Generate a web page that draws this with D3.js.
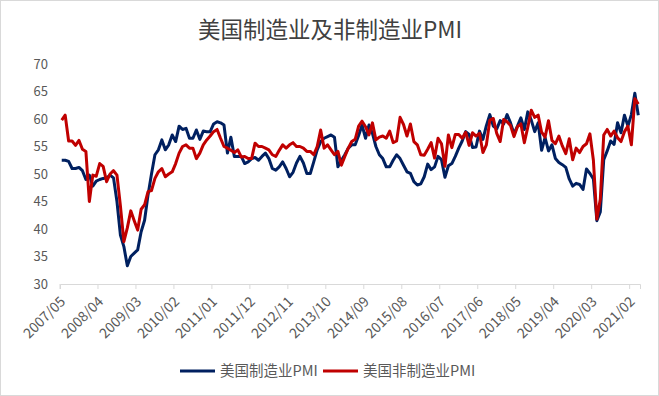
<!DOCTYPE html>
<html>
<head>
<meta charset="utf-8">
<title>美国制造业及非制造业PMI</title>
<script src="https://d3js.org/d3.v7.min.js"></script>
<style>
  body { margin: 0; background: #fff; }
  text { font-family: "Noto Sans CJK SC", "Noto Sans", sans-serif; }
</style>
</head>
<body>
<script>
  // データ
  var title = "美国制造业及非制造业PMI";
  var seriesNames = ["美国制造业PMI", "美国非制造业PMI"];
  var yTicks = [30, 35, 40, 45, 50, 55, 60, 65, 70];
  var tickLabels = ["2007/05", "2008/04", "2009/03", "2010/02", "2011/01", "2011/12", "2012/11",
    "2013/10", "2014/09", "2015/08", "2016/07", "2017/06", "2018/05", "2019/04", "2020/03", "2021/02"];

  // 美国制造业PMI 2007/05 - 2021/04
  var mfg = [
    52.5, 52.5, 52.3, 51.0, 51.0, 51.2, 50.6, 49.0,
    49.8, 47.8, 48.7, 49.0, 49.2, 49.3, 49.8, 49.3, 45.0, 38.9, 36.8, 33.3,
    35.0, 35.6, 36.2, 39.5, 41.6, 46.2, 50.0, 53.5, 54.4, 56.2, 54.4, 55.3,
    57.1, 55.9, 58.7, 58.1, 58.3, 56.5, 56.5, 58.0, 56.3, 57.8, 57.7, 57.7,
    59.1, 59.5, 59.3, 58.9, 53.8, 56.7, 53.2, 53.2, 53.2, 51.9, 52.2, 52.8,
    53.0, 52.5, 53.2, 53.8, 52.8, 51.0, 50.7, 51.3, 52.2, 51.0, 49.5, 50.3,
    52.0, 53.2, 52.0, 50.1, 50.1, 52.2, 54.4, 55.9, 56.5, 56.8, 57.1, 56.7,
    51.3, 52.5, 53.5, 54.7, 55.3, 55.3, 57.0, 58.9, 56.5, 58.9, 57.4, 55.0,
    53.5, 52.8, 51.3, 51.3, 52.5, 53.5, 52.8, 51.6, 50.4, 50.1, 48.6, 48.0,
    48.2, 49.5, 51.8, 50.8, 51.3, 53.2, 52.6, 49.4, 51.5, 51.9, 53.2, 54.7,
    56.0, 57.7, 57.2, 54.8, 54.9, 57.8, 56.3, 58.8, 60.8, 58.7, 58.2, 59.7,
    59.1, 60.8, 59.3, 57.3, 58.7, 60.2, 58.1, 61.3, 59.8, 57.7, 59.3, 54.3,
    56.6, 54.2, 55.3, 52.8, 52.1, 51.7, 51.2, 49.1, 47.8, 48.3, 48.1, 47.2,
    50.9, 50.1, 49.1, 41.5, 43.1, 52.6, 54.2, 56.0, 55.4, 59.3, 57.5, 60.7,
    58.7, 60.8, 64.7, 60.7
  ];

  // 美国非制造业PMI 2007/05 - 2021/04
  var nonMfg = [
    59.8, 60.7, 56.0, 56.0, 55.2, 56.1, 54.5, 54.1,
    45.0, 49.8, 49.6, 51.9, 51.4, 48.6, 50.0, 50.6, 49.8, 44.2, 37.7, 40.2,
    43.3, 41.5, 39.8, 43.6, 44.4, 46.8, 47.0, 49.2, 50.4, 51.0, 49.5, 50.0,
    50.4, 51.9, 53.8, 55.0, 55.3, 54.7, 54.7, 52.8, 53.8, 55.3, 56.2, 56.9,
    57.7, 58.1, 56.5, 55.0, 54.7, 54.3, 53.9, 54.4, 53.1, 53.2, 52.8, 52.8,
    55.6, 55.0, 55.0, 54.7, 54.4, 53.5, 53.2, 54.3, 55.3, 54.7, 55.3, 55.7,
    55.0, 55.0, 54.7, 54.1, 54.1, 53.5, 55.0, 58.0, 54.7, 55.3, 54.4, 53.5,
    54.1, 51.6, 53.2, 54.7, 55.9, 56.3, 58.7, 59.6, 58.6, 57.1, 59.3, 56.2,
    56.7, 56.9, 56.5, 57.8, 55.7, 56.0, 60.3, 59.0, 56.9, 59.1, 55.9, 55.3,
    53.5, 53.4, 54.5, 55.7, 52.9, 56.5, 55.5, 51.4, 57.1, 54.8, 57.2, 57.2,
    56.5, 57.6, 55.2, 57.5, 56.9, 57.4, 53.9, 55.3, 59.8, 60.1, 57.4, 55.9,
    59.9, 59.5, 58.8, 56.8, 58.6, 59.1, 55.7, 58.5, 61.6, 60.3, 60.7, 57.6,
    56.7, 59.7, 56.1, 55.5, 56.9, 55.1, 53.7, 56.4, 52.6, 54.7, 53.9, 55.0,
    55.5, 57.3, 52.5, 41.8, 45.4, 57.1, 58.1, 56.9, 57.8, 56.6, 55.9, 57.7,
    58.7, 55.3, 63.7, 62.7
  ];

  // 月份 (2007/05 起)
  var months = [];
  for (var k = 0; k < mfg.length; k++) {
    var m = 4 + k;
    months.push((2007 + Math.floor(m / 12)) + "/" + d3.format("02")(m % 12 + 1));
  }

  var width = 659, height = 396;
  var colors = ["#002060", "#C00000"];

  var svg = d3.select("body").append("svg").attr("width", width).attr("height", height);

  // 外枠
  svg.append("rect").attr("x", 0.5).attr("y", 0.5)
    .attr("width", width - 1).attr("height", height - 1)
    .attr("fill", "#fff").attr("stroke", "#d9d9d9");

  svg.append("text").attr("x", 330).attr("y", 38)
    .attr("text-anchor", "middle").attr("font-size", 22.5)
    .attr("fill", "#404040").text(title);

  var x = d3.scaleBand().domain(months).range([60, 640]);
  var bw = x.bandwidth();
  var y = d3.scaleLinear().domain([30, 70]).range([284, 64]);

  // y軸
  var gy = svg.append("g").attr("transform", "translate(60,0)")
    .call(d3.axisLeft(y).tickValues(yTicks).tickSize(0).tickPadding(12));
  gy.select(".domain").remove();
  gy.selectAll("text").attr("font-size", 13).attr("fill", "#595959")
    .style("font-family", "'Noto Sans CJK SC', sans-serif");

  // x軸
  var gx = svg.append("g").attr("transform", "translate(0,284)")
    .call(d3.axisBottom(x).tickValues(tickLabels).tickSizeOuter(0).tickSize(5));
  gx.select(".domain").attr("stroke", "#d9d9d9");
  gx.selectAll(".tick line").attr("stroke", "#d9d9d9")
    .attr("x1", -bw / 2).attr("x2", -bw / 2);
  gx.selectAll(".tick text")
    .attr("font-size", 14).attr("fill", "#595959")
    .style("font-family", "'Noto Sans CJK SC', sans-serif")
    .attr("text-anchor", "end")
    .attr("dy", "0.35em")
    .attr("transform", "translate(1,15) rotate(-45)")
    .attr("y", 0).attr("x", 0);

  // 折れ線
  var line = d3.line()
    .x(function(d, i) { return x(months[i]) + bw / 2; })
    .y(function(d) { return y(d); });

  [mfg, nonMfg].forEach(function(s, j) {
    svg.append("path").datum(s)
      .attr("d", line)
      .attr("fill", "none")
      .attr("stroke", colors[j])
      .attr("stroke-width", 3)
      .attr("stroke-linejoin", "round");
  });

  // 凡例
  var legendX = [180, 323];
  seriesNames.forEach(function(name, j) {
    var g = svg.append("g").attr("transform", "translate(" + legendX[j] + ",371)");
    g.append("line").attr("x1", 0).attr("x2", 35)
      .attr("stroke", colors[j]).attr("stroke-width", 3);
    g.append("text").attr("x", 40).attr("dy", "0.35em")
      .attr("font-size", 14.5).attr("fill", "#595959").text(name);
  });
</script>
</body>
</html>
